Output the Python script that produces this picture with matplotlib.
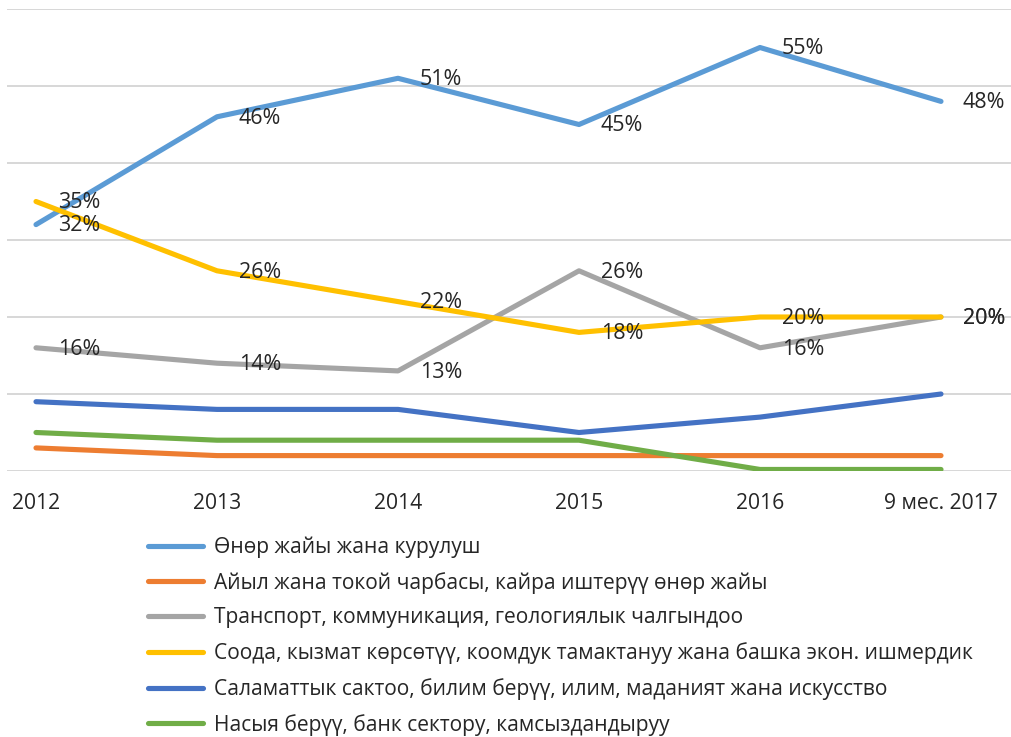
import matplotlib
matplotlib.use("Agg")
import matplotlib.pyplot as plt

plt.rcParams['font.family'] = ['Open Sans', 'DejaVu Sans']

# данные
years = ['2012', '2013', '2014', '2015', '2016', '9 мес. 2017']
industry = [32, 46, 51, 45, 55, 48]
agro = [3, 2, 2, 2, 2, 2]
transport = [16, 14, 13, 26, 16, 20]
trade = [35, 26, 22, 18, 20, 20]
health = [9, 8, 8, 5, 7, 10]
credit = [5, 4, 4, 4, 0.2, 0.2]

names = ['Өнөр жайы жана курулуш',
         'Айыл жана токой чарбасы, кайра иштерүү өнөр жайы',
         'Транспорт, коммуникация, геологиялык чалгындоо',
         'Соода, кызмат көрсөтүү, коомдук тамактануу жана башка экон. ишмердик',
         'Саламаттык сактоо, билим берүү, илим, маданият жана искусство',
         'Насыя берүү, банк сектору, камсыздандыруу']
series = [industry, agro, transport, trade, health, credit]
colors = ['#5B9BD5', '#ED7D31', '#A5A5A5', '#FFC000', '#4472C4', '#70AD47']
labeled = [True, False, True, True, False, False]

fig = plt.figure(figsize=(10.12, 7.37), dpi=100)
ax = fig.add_axes([7/1012, 1 - 471/737, 1 - 7/1012, 462/737])

x = list(range(len(years)))
for vals, name, c in zip(series, names, colors):
    ax.plot(x, vals, color=c, lw=3.7, solid_capstyle='round',
            solid_joinstyle='round', label=name)

# подписи данных
for vals, show in zip(series, labeled):
    if not show:
        continue
    for xi, v in zip(x, vals):
        ax.annotate('%d%%' % v, (xi, v), xytext=(31, -1), textcoords='offset points',
                    ha='center', va='center', fontsize=15.5, color='#262626')

ax.set_ylim(0, 60)
ax.set_xlim(-29/181, (1012 - 36)/181)
ax.set_yticks(range(0, 61, 10))
ax.set_yticklabels([])
ax.set_xticks(x)
ax.set_xticklabels(years, fontsize=15.2, color='#262626')
ax.tick_params(length=0, pad=16)
ax.tick_params(axis='y', length=0)
ax.grid(axis='y', color='#D4D4D4', lw=1.3)
ax.set_axisbelow(True)
for s in ax.spines.values():
    s.set_visible(False)

leg = ax.legend(loc='upper left', bbox_to_anchor=(140/1012, 1 - 528/737),
                bbox_transform=fig.transFigure, frameon=False,
                fontsize=15.1, handlelength=2.6, handletextpad=0.52,
                labelspacing=0.66, borderaxespad=0)
for t in leg.get_texts():
    t.set_color('#262626')

fig.savefig('out.png', dpi=100)
